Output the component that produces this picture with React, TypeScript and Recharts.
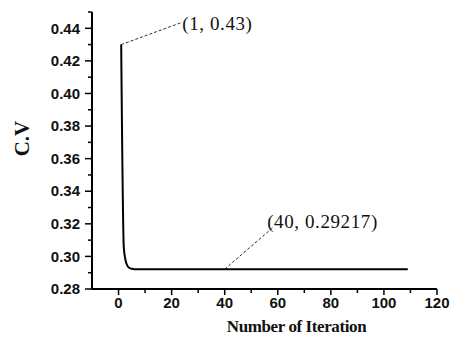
import { LineChart, Line, XAxis, YAxis, ReferenceLine, ReferenceDot } from "recharts";

const iterations = [1, 2, 3, 4, 5, 6, 10, 20, 40, 60, 80, 100, 109];
const cvValues = [0.43, 0.305, 0.2955, 0.293, 0.2924, 0.29217, 0.29217, 0.29217, 0.29217, 0.29217, 0.29217, 0.29217, 0.29217];

const xTicks = [0, 10, 20, 30, 40, 50, 60, 70, 80, 90, 100, 110, 120];
const yTicks = [0.28, 0.29, 0.3, 0.31, 0.32, 0.33, 0.34, 0.35, 0.36, 0.37, 0.38, 0.39, 0.4, 0.41, 0.42, 0.43, 0.44, 0.45];

// point marked, end of leader line, start of the text
const annotations = [
  { x: 1, y: 0.43, lx: 24, ly: 0.4437, tx: 24, ty: 0.4388, text: "(1, 0.43)" },
  { x: 40, y: 0.29217, lx: 58, ly: 0.3175, tx: 56, ty: 0.3175, text: "(40, 0.29217)" }
];

const data = iterations.map((it, i) => ({ it, cv: cvValues[i] }));

const tickFont = { fontFamily: "'Liberation Sans', Arial, sans-serif", fontWeight: 700, fontSize: 15, fill: "#111" };
const serif = "'Liberation Serif', 'Times New Roman', serif";

function YTick({ x, y, payload }: any) {
  const v = payload.value as number;
  const major = Math.round(v * 100) % 2 === 0;
  return (
    <g>
      <line x1={x} x2={x - (major ? 7 : 4)} y1={y} y2={y} stroke="#000" strokeWidth={1.5} />
      {major && (
        <text x={x - 12} y={y} dy="0.35em" textAnchor="end" {...tickFont}>
          {v.toFixed(2)}
        </text>
      )}
    </g>
  );
}

function XTick({ x, y, payload }: any) {
  const v = payload.value as number;
  const major = v % 20 === 0;
  return (
    <g>
      <line x1={x} x2={x} y1={y} y2={y + (major ? 6 : 4)} stroke="#000" strokeWidth={1.5} />
      {major && (
        <text x={x} y={y + 19} textAnchor="middle" {...tickFont}>
          {v}
        </text>
      )}
    </g>
  );
}

export default function App() {
  return (
    <div style={{ position: "absolute", left: 0, top: 0, background: "#fff" }}>
      <LineChart width={453} height={348} data={data} margin={{ top: 12, right: 16, bottom: 0, left: 0 }}>
        <XAxis
          dataKey="it"
          type="number"
          domain={[-10, 120]}
          ticks={xTicks}
          interval={0}
          height={59}
          tickLine={false}
          tickSize={0}
          tickMargin={0}
          axisLine={{ stroke: "#000", strokeWidth: 2 }}
          tick={(p: any) => <XTick {...p} />}
          label={{
            content: ({ viewBox }: any) => (
              <text
                x={viewBox.x + viewBox.width / 2 + 32}
                y={viewBox.y + 43}
                textAnchor="middle"
                fontFamily={serif}
                fontWeight={700}
                fontSize={17}
                letterSpacing={-0.4}
                fill="#111"
              >
                Number of Iteration
              </text>
            )
          }}
        />
        <YAxis
          type="number"
          domain={[0.28, 0.45]}
          ticks={yTicks}
          interval={0}
          width={92}
          tickLine={false}
          tickSize={0}
          tickMargin={0}
          axisLine={{ stroke: "#000", strokeWidth: 2 }}
          tick={(p: any) => <YTick {...p} />}
          label={{
            content: ({ viewBox }: any) => {
              const cx = 22;
              const cy = viewBox.y + viewBox.height / 2 - 12;
              return (
                <text
                  x={cx}
                  y={cy}
                  transform={`rotate(-90 ${cx} ${cy})`}
                  textAnchor="middle"
                  dominantBaseline="central"
                  fontFamily={serif}
                  fontWeight={700}
                  fontSize={21}
                  fill="#111"
                >
                  C.V
                </text>
              );
            }
          }}
        />
        {annotations.map((a) => (
          <ReferenceLine
            key={a.text + "l"}
            segment={[{ x: a.x, y: a.y }, { x: a.lx, y: a.ly }]}
            stroke="#333"
            strokeWidth={1}
            strokeDasharray="3 2"
            ifOverflow="visible"
          />
        ))}
        {annotations.map((a) => (
          <ReferenceDot
            key={a.text + "t"}
            x={a.tx}
            y={a.ty}
            r={0}
            fill="none"
            stroke="none"
            ifOverflow="visible"
            label={{
              content: ({ viewBox }: any) => (
                <text
                  x={viewBox.x}
                  y={viewBox.y}
                  fontFamily={serif}
                  fontSize={19}
                  letterSpacing={0.6}
                  fill="#111"
                >
                  {a.text}
                </text>
              )
            }}
          />
        ))}
        <Line
          type="monotone"
          dataKey="cv"
          stroke="#000"
          strokeWidth={2}
          dot={false}
          isAnimationActive={false}
        />
      </LineChart>
    </div>
  );
}
